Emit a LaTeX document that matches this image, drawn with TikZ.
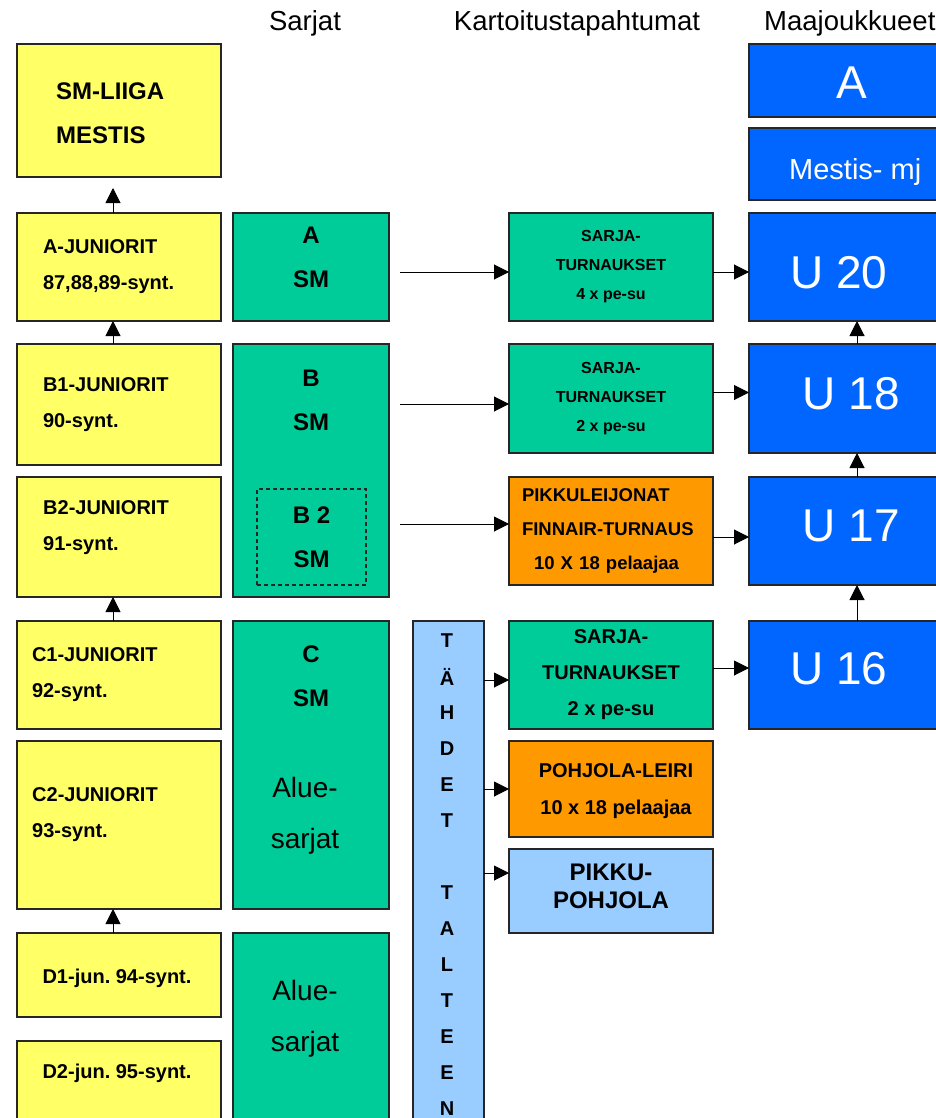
\documentclass[tikz,border=0pt]{standalone}
\usepackage{fontspec}
\setmainfont{Liberation Sans}
\usetikzlibrary{arrows.meta}
\definecolor{junkeltainen}{RGB}{255,255,102}
\definecolor{sarjavihrea}{RGB}{0,204,153}
\definecolor{maasininen}{RGB}{0,102,255}
\definecolor{kartoranssi}{RGB}{255,153,0}
\definecolor{talteensininen}{RGB}{153,204,255}
\newcommand{\koko}[2]{\fontsize{#1}{#2}\selectfont}

\begin{document}
\frenchspacing
\begin{tikzpicture}[x=1pt,y=-1pt,
    laatikko/.style={draw=black!85, line width=1.3pt, inner sep=0pt, outer sep=0pt},
    juniori/.style={laatikko, fill=junkeltainen, minimum width=204, align=left,
      text width=152, inner xsep=26, font=\bfseries\koko{20}{36}},
    juniteksti/.style={anchor=west, inner sep=0pt, align=left, font=\bfseries\koko{20}{36}},
    sarja/.style={laatikko, fill=sarjavihrea, minimum width=156},
    sarjateksti/.style={inner sep=0pt, align=center, font=\bfseries\koko{24}{44}},
    aluesarja/.style={inner sep=0pt, align=center, font=\koko{28}{51}},
    kart/.style={laatikko, minimum width=204, align=center},
    maa/.style={laatikko, fill=maasininen, anchor=west, minimum width=260},
    maateksti/.style={inner sep=0pt, anchor=west, text=white, font=\koko{46}{50}},
    otsikko/.style={inner sep=0pt, font=\koko{27.5}{30}},
    nuoli/.style={line width=1pt, -{Triangle[length=15pt,width=15pt]}}]

  \fill[white] (0,0) rectangle (936,1118);
  \useasboundingbox (0,0) rectangle (936,1118);
  \clip (0,0) rectangle (936,1118);

  %%%%% otsikot %%%%%
  \node[otsikko] (h-sarjat) at (305,23) {Sarjat};
  \node[otsikko] (h-kart) at (577,23) {Kartoitustapahtumat};
  \node[otsikko, anchor=west] (h-maa) at (764,23) {Maajoukkueet};

  %%%%% juniorit %%%%%
  \node[juniori, minimum height=133] (liiga) at (119,110.5) {};
  \node[juniteksti, font=\bfseries\koko{24}{44}] (liiga-t) at (56,113) {SM-LIIGA\\MESTIS};
  \node[juniori, minimum height=108] (ajun) at (119,267) {A-JUNIORIT\\87,88,89-synt.};
  \node[juniori, minimum height=121] (b1jun) at (119,404.5) {B1-JUNIORIT\\90-synt.};
  \node[juniori, minimum height=120] (b2jun) at (119,537) {};
  \node[juniteksti] (b2jun-t) at (43,528) {B2-JUNIORIT\\91-synt.};
  \node[juniori, minimum height=108, text width=174, inner xsep=15] (c1jun) at (119,675) {C1-JUNIORIT\\92-synt.};
  \node[juniori, minimum height=168] (c2jun) at (119,825) {};
  \node[juniteksti] (c2jun-t) at (32,815) {C2-JUNIORIT\\93-synt.};
  \node[juniori, minimum height=84] (d1jun) at (119,975) {};
  \node[juniteksti, anchor=center] (d1jun-t) at (117,978) {D1-jun. 94-synt.};
  \node[juniori, minimum height=110] (d2jun) at (119,1096) {};
  \node[juniteksti, anchor=center] (d2jun-t) at (117,1073) {D2-jun. 95-synt.};

  %%%%% sarjat %%%%%
  \node[sarja, minimum height=108] (ga) at (311,267) {};
  \node[sarjateksti] (ga-t) at (311,257) {A\\SM};
  \node[sarja, minimum height=253] (gb) at (311,470.5) {};
  \node[sarjateksti] (gb-t) at (311,400.5) {B\\SM};
  \node[laatikko, line width=1.2pt, dash pattern=on 4pt off 3pt, minimum width=109,
    minimum height=96, align=center, font=\bfseries\koko{24}{44}] (gb2) at (311.5,537) {B 2\\SM};
  \node[sarja, minimum height=288] (gc) at (311,765) {};
  \node[sarjateksti] (gc-t) at (311,676.5) {C\\SM};
  \node[aluesarja] (gc-alue) at (305,816) {Alue-\\sarjat};
  \node[sarja, minimum height=200] (gd) at (311,1033) {};
  \node[aluesarja] (gd-alue) at (305,1019) {Alue-\\sarjat};

  %%%%% tahdet talteen %%%%%
  \node[laatikko, fill=talteensininen, minimum width=71, minimum height=520] (tahdet) at (448.5,881) {};
  \foreach \kirjain [count=\i] in {T,Ä,H,D,E,T,{},T,A,L,T,E,E,N}
    \node[inner sep=0pt, font=\bfseries\koko{20}{24}] (tk\i) at (447,605+36*\i) {\kirjain};

  %%%%% kartoitustapahtumat %%%%%
  \node[kart, fill=sarjavihrea, minimum height=108, font=\bfseries\koko{16}{29}] (s1) at (611,267)
    {SARJA-\\TURNAUKSET\\4 x pe-su};
  \node[kart, fill=sarjavihrea, minimum height=109, font=\bfseries\koko{16}{29}] (s2) at (611,398.5)
    {SARJA-\\TURNAUKSET\\2 x pe-su};
  \node[kart, fill=kartoranssi, minimum height=108, align=left, text width=178, inner xsep=13,
    font=\bfseries\koko{18.5}{34}] (pikl) at (611,531)
    {PIKKULEIJONAT\\FINNAIR-TURNAUS\\\hspace*{12pt}10 X 18 pelaajaa};
  \node[kart, fill=sarjavihrea, minimum height=108, font=\bfseries\koko{20}{36}] (s3) at (611,675)
    {SARJA-\\TURNAUKSET\\2 x pe-su};
  \node[kart, fill=kartoranssi, minimum height=96] (pohl) at (611,789) {};
  \node[inner sep=0pt, align=center, font=\bfseries\koko{20}{37}] (pohl-t) at (616,791)
    {POHJOLA-LEIRI\\10 x 18 pelaajaa};
  \node[kart, fill=talteensininen, minimum height=84] (pikp) at (611,891) {};
  \node[inner sep=0pt, align=center, font=\bfseries\koko{24}{28}] (pikp-t) at (611,886)
    {PIKKU-\\POHJOLA};

  %%%%% maajoukkueet %%%%%
  \node[maa, minimum height=73] (ma) at (749,80.5) {};
  \node[maateksti, anchor=center] (ma-t) at (852,83) {A};
  \node[maa, minimum height=72] (mm) at (749,164) {};
  \node[maateksti, anchor=base west, font=\koko{29}{34}] (mm-t) at (789,179) {Mestis- mj};
  \node[maa, minimum height=108] (u20) at (749,267) {};
  \node[maateksti] (u20-t) at (790,272.5) {U 20};
  \node[maa, minimum height=109] (u18) at (749,398.5) {};
  \node[maateksti] (u18-t) at (802.5,393.5) {U 18};
  \node[maa, minimum height=108] (u17) at (749,531) {};
  \node[maateksti] (u17-t) at (802.5,526) {U 17};
  \node[maa, minimum height=108] (u16) at (749,675) {};
  \node[maateksti] (u16-t) at (790,669) {U 16};

  %%%%% nuolet %%%%%
  \coordinate (jx) at (113,0);
  \coordinate (ux) at (857,0);
  \coordinate (liiga-in) at (113,188);
  \draw[nuoli] (ajun.north -| jx) -- (liiga-in);
  \draw[nuoli] (b1jun.north -| jx) -- (ajun.south -| jx);
  \draw[nuoli] (c1jun.north -| jx) -- (b2jun.south -| jx);
  \draw[nuoli] (d1jun.north -| jx) -- (c2jun.south -| jx);

  \coordinate (ga-out) at (400,272);
  \coordinate (gb-out) at (400,404);
  \coordinate (gb2-out) at (400,524);
  \draw[nuoli] (ga-out) -- (ga-out -| s1.west);
  \draw[nuoli] (gb-out) -- (gb-out -| s2.west);
  \draw[nuoli] (gb2-out) -- (gb2-out -| pikl.west);

  \draw[nuoli] ([yshift=-5pt]s1.east) -- ([yshift=-5pt]u20.west);
  \draw[nuoli] ([yshift=6pt]s2.east) -- ([yshift=6pt]u18.west);
  \draw[nuoli] ([yshift=-6pt]pikl.east) -- ([yshift=-6pt]u17.west);
  \draw[nuoli] ([yshift=7pt]s3.east) -- ([yshift=7pt]u16.west);

  \coordinate (s3-in) at ([yshift=-5pt]s3.west);
  \coordinate (pikp-in) at ([yshift=18pt]pikp.west);
  \draw[nuoli] (tahdet.east |- s3-in) -- (s3-in);
  \draw[nuoli] (tahdet.east |- pohl.west) -- (pohl.west);
  \draw[nuoli] (tahdet.east |- pikp-in) -- (pikp-in);

  \draw[nuoli] (u18.north -| ux) -- (u20.south -| ux);
  \draw[nuoli] (u17.north -| ux) -- (u18.south -| ux);
  \draw[nuoli] (u16.north -| ux) -- (u17.south -| ux);
\end{tikzpicture}
\end{document}
